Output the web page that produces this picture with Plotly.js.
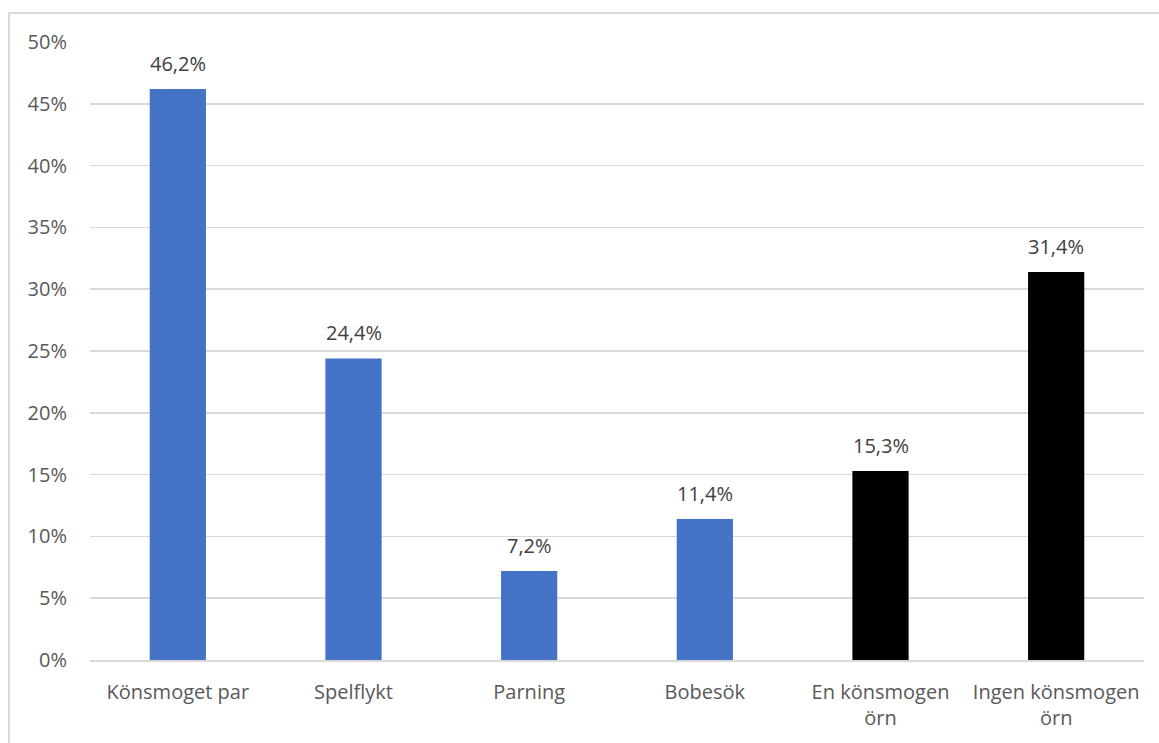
<!DOCTYPE html>
<html>
<head>
<meta charset="utf-8">
<script src="https://cdn.plot.ly/plotly-3.0.1.min.js"></script>
<style>
  html, body { margin: 0; padding: 0; background: #fff; }
  #wrap { position: relative; width: 1159px; height: 743px; overflow: hidden; }
  #chart { width: 1159px; height: 743px; }
  #frame { position: absolute; left: 8px; top: 12px; width: 1170px; height: 760px;
           border: 2px solid #d9d9d9; box-sizing: border-box; pointer-events: none; }
</style>
</head>
<body>
<div id="wrap">
  <div id="chart"></div>
  <div id="frame"></div>
</div>
<script>
// Kategorier och andelar (andel av observationer)
const categories = ['Könsmoget par', 'Spelflykt', 'Parning', 'Bobesök', 'En könsmogen<br>örn', 'Ingen könsmogen<br>örn'];
const shares = [0.462, 0.244, 0.072, 0.114, 0.153, 0.314];
const barColors = ['#4472c4', '#4472c4', '#4472c4', '#4472c4', '#000000', '#000000'];
const tickValues = [0, 0.05, 0.10, 0.15, 0.20, 0.25, 0.30, 0.35, 0.40, 0.45, 0.50];

const textColor = '#595959';
const fontFamily = 'Open Sans, Liberation Sans, sans-serif';
const fontSize = 20;

const trace = {
  type: 'bar',
  x: categories,
  y: shares,
  marker: { color: barColors },
  hoverinfo: 'none'
};

const labels = categories.map((c, i) => ({
  x: c,
  y: shares[i],
  xref: 'x',
  yref: 'y',
  text: (shares[i] * 100).toFixed(1).replace('.', ',') + '%',
  showarrow: false,
  yanchor: 'bottom',
  yshift: 10,
  font: { family: fontFamily, size: fontSize, color: '#404040' }
}));

const layout = {
  width: 1159,
  height: 743,
  margin: { l: 90, r: 15, t: 42, b: 83 },
  paper_bgcolor: '#ffffff',
  plot_bgcolor: '#ffffff',
  separators: ',.',
  bargap: 0.68,
  showlegend: false,
  font: { family: fontFamily, size: fontSize, color: textColor },
  xaxis: {
    type: 'category',
    showgrid: false,
    showline: true,
    linecolor: '#d9d9d9',
    linewidth: 1.5,
    ticks: '',
    ticklabelstandoff: 13,
    tickfont: { family: fontFamily, size: fontSize, color: textColor }
  },
  yaxis: {
    range: [0, 0.5],
    tickvals: tickValues,
    tickformat: '.0%',
    showgrid: true,
    gridcolor: '#d9d9d9',
    gridwidth: 1.5,
    zeroline: false,
    showline: false,
    ticks: '',
    ticklabelstandoff: 22,
    tickfont: { family: fontFamily, size: fontSize, color: textColor }
  },
  annotations: labels
};

Plotly.newPlot('chart', [trace], layout, { displayModeBar: false, staticPlot: true });
</script>
</body>
</html>
